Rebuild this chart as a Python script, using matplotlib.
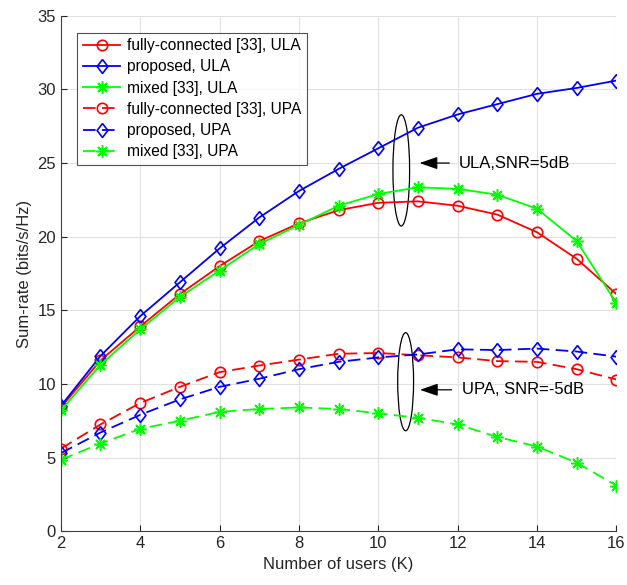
import numpy as np
import matplotlib
matplotlib.use("Agg")
import matplotlib.pyplot as plt
from matplotlib.patches import Ellipse

plt.rcParams['font.family'] = ['Liberation Sans', 'DejaVu Sans']

users = np.arange(2, 17)

# ULA, SNR = 5 dB
fc_ula = [8.4, 11.6, 13.9, 16.1, 18.0, 19.7, 20.9, 21.8, 22.3, 22.4, 22.1, 21.5, 20.3, 18.5, 16.1]
prop_ula = [8.5, 11.9, 14.6, 16.9, 19.2, 21.3, 23.1, 24.6, 26.0, 27.4, 28.3, 29.0, 29.7, 30.1, 30.6]
mixed_ula = [8.2, 11.3, 13.7, 15.9, 17.7, 19.5, 20.8, 22.1, 22.9, 23.35, 23.25, 22.85, 21.9, 19.7, 15.5]

# UPA, SNR = -5 dB
fc_upa = [5.6, 7.25, 8.7, 9.8, 10.8, 11.25, 11.65, 12.05, 12.1, 11.95, 11.8, 11.55, 11.5, 11.0, 10.3]
prop_upa = [5.3, 6.7, 7.9, 8.95, 9.8, 10.35, 11.0, 11.5, 11.8, 12.0, 12.35, 12.3, 12.4, 12.2, 11.85]
mixed_upa = [4.85, 5.95, 6.95, 7.5, 8.1, 8.3, 8.4, 8.3, 8.0, 7.7, 7.25, 6.4, 5.75, 4.65, 3.1]

labels = ['fully-connected [33], ULA', 'proposed, ULA', 'mixed [33], ULA',
          'fully-connected [33], UPA', 'proposed, UPA', 'mixed [33], UPA']

fig = plt.figure(figsize=(6.27, 5.85), dpi=100)
ax = fig.add_axes([0.097, 0.092, 0.886, 0.881])

red, blue, green = '#ff0000', '#0000ff', '#00ff00'
lw = 1.3
dash = (0, (7, 3.5))
diamond = [(0, 1), (0.78, 0), (0, -1), (-0.78, 0), (0, 1)]
star = (8, 2, 0)

circ = dict(marker='o', ms=7.5, mfc='none', mew=1.2)
diam = dict(marker=diamond, ms=10, mfc='none', mew=1.2)
ast = dict(marker=star, ms=9, mew=1.1)

ax.plot(users, fc_ula, color=red, lw=lw, label=labels[0], **circ)
ax.plot(users, prop_ula, color=blue, lw=lw, label=labels[1], **diam)
ax.plot(users, mixed_ula, color=green, lw=lw, label=labels[2], **ast)
ax.plot(users, fc_upa, color=red, lw=lw, ls=dash, label=labels[3], **circ)
ax.plot(users, prop_upa, color=blue, lw=lw, ls=dash, label=labels[4], **diam)
ax.plot(users, mixed_upa, color=green, lw=lw, ls=dash, label=labels[5], **ast)

# annotations
ax.add_patch(Ellipse((10.58, 24.5), 0.42, 7.55, fill=False, ec='black', lw=0.9))
ax.add_patch(Ellipse((10.69, 10.15), 0.4, 6.66, fill=False, ec='black', lw=0.9))
arrow = dict(arrowstyle='-|>,head_length=1.1,head_width=0.38', color='black', lw=0.9)
ax.annotate('', xy=(10.97, 25.0), xytext=(11.86, 25.0), arrowprops=arrow)
ax.text(12.03, 25.0, 'ULA,SNR=5dB', fontsize=12, va='center', ha='left')
ax.annotate('', xy=(10.98, 9.6), xytext=(11.92, 9.6), arrowprops=arrow)
ax.text(12.1, 9.6, 'UPA, SNR=-5dB', fontsize=12, va='center', ha='left')

ax.set_xlim(2, 16)
ax.set_ylim(0, 35)
ax.set_xticks(range(2, 17, 2))
ax.set_yticks(range(0, 36, 5))
ax.grid(True, color='#e0e0e0', lw=0.8)
ax.set_axisbelow(True)
for s in ['top', 'right']:
    ax.spines[s].set_visible(False)
for s in ['left', 'bottom']:
    ax.spines[s].set_color('#404040')
ax.tick_params(labelsize=12, colors='#262626', direction='in', length=4)
ax.set_xlabel('Number of users (K)', fontsize=12, color='#262626')
ax.set_ylabel('Sum-rate (bits/s/Hz)', fontsize=12, color='#262626')

leg = ax.legend(loc='upper left', bbox_to_anchor=(0.03, 0.967), fontsize=11.2, frameon=True,
                fancybox=False, edgecolor='#262626', handlelength=2.4, borderpad=0.35,
                labelspacing=0.4, handletextpad=0.45, borderaxespad=0)
leg.get_frame().set_linewidth(0.8)

fig.savefig('out.png', dpi=100)
